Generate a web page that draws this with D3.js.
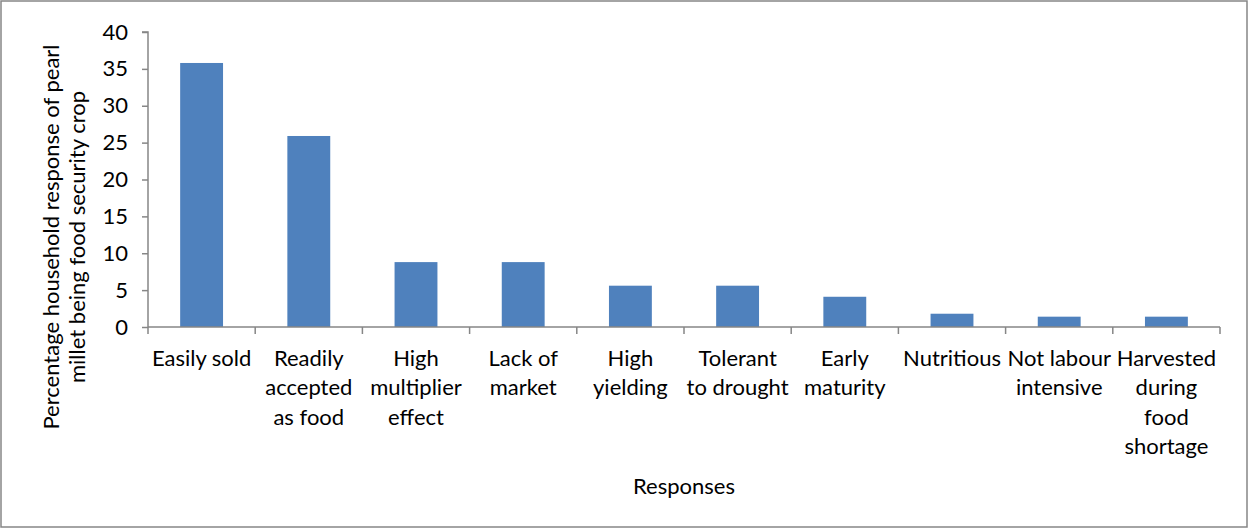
<!DOCTYPE html>
<html><head><meta charset="utf-8">
<script src="https://cdn.jsdelivr.net/npm/d3@7"></script>
<style>body{margin:0;background:#fff}svg{display:block}text{font-family:Lato,"Open Sans",sans-serif;fill:#000}</style>
</head><body><svg id="c" width="1249" height="529"></svg>
<script>
const categories = [
  ["Easily sold"],
  ["Readily","accepted","as food"],
  ["High","multiplier","effect"],
  ["Lack of","market"],
  ["High","yielding"],
  ["Tolerant","to drought"],
  ["Early","maturity"],
  ["Nutritious"],
  ["Not labour","intensive"],
  ["Harvested","during","food","shortage"]
];
const values = [35.8, 25.9, 8.8, 8.8, 5.6, 5.6, 4.1, 1.8, 1.4, 1.4];
const yTicks = [0,5,10,15,20,25,30,35,40];
const yTitle = ["Percentage household response of pearl","millet being food security crop"];
const xTitle = "Responses";
const FS = 22;

const svg = d3.select("#c");
svg.append("rect").attr("x",1).attr("y",1).attr("width",1246).attr("height",526)
  .attr("fill","#fff").attr("stroke","#868686").attr("stroke-width",1.5);

const L=148, R=1220, T=32, B=327;
const ids = categories.map((d,i)=>i);
const x = d3.scaleBand().domain(ids).range([L,R]).paddingInner(0.6).paddingOuter(0.3);
const xb = d3.scaleBand().domain(ids).range([L,R]);
const y = d3.scaleLinear().domain([0,40]).range([B,T]);

svg.selectAll("rect.bar").data(values).enter().append("rect").attr("class","bar")
  .attr("x",(d,i)=>xb(i)+xb.bandwidth()/2-x.bandwidth()/2)
  .attr("width",x.bandwidth())
  .attr("y",d=>y(d)).attr("height",d=>B-y(d))
  .attr("fill","#4f81bd");

// y axis
const gy = svg.append("g").attr("transform",`translate(${L},0)`)
  .call(d3.axisLeft(y).tickValues(yTicks).tickSize(6).tickPadding(14));
gy.select(".domain").attr("stroke","#868686").attr("stroke-width",1.5).attr("d",`M-6,${T}H0V${B}`);
gy.selectAll(".tick line").attr("stroke","#868686").attr("stroke-width",1.5);
gy.selectAll(".tick text").attr("font-size",FS).attr("font-family","Lato").style("fill","#000");

// x axis
const gx = svg.append("g").attr("transform",`translate(0,${B})`);
gx.append("line").attr("x1",L).attr("x2",R).attr("stroke","#868686").attr("stroke-width",1.5);
const bounds = ids.map(i=>xb(i)).concat([R]);
gx.selectAll("line.tk").data(bounds).enter().append("line").attr("class","tk")
  .attr("x1",d=>d).attr("x2",d=>d).attr("y1",0).attr("y2",7)
  .attr("stroke","#868686").attr("stroke-width",1.5);
const lab = svg.selectAll("text.cat").data(categories).enter().append("text").attr("class","cat")
  .attr("text-anchor","middle").attr("font-size",FS)
  .attr("transform",(d,i)=>`translate(${xb(i)+xb.bandwidth()/2},${B+39})`);
lab.selectAll("tspan").data(d=>d).enter().append("tspan")
  .attr("x",0).attr("y",(d,j)=>j*29.3).text(d=>d);

// titles
const yt = svg.append("text").attr("text-anchor","middle").attr("font-size",FS)
  .attr("transform","translate(58,237) rotate(-90)");
yt.selectAll("tspan").data(yTitle).enter().append("tspan").attr("x",0).attr("y",(d,j)=>j*26+1).text(d=>d);
svg.append("text").attr("x",684).attr("y",494).attr("text-anchor","middle").attr("font-size",FS).text(xTitle);
</script></body></html>
